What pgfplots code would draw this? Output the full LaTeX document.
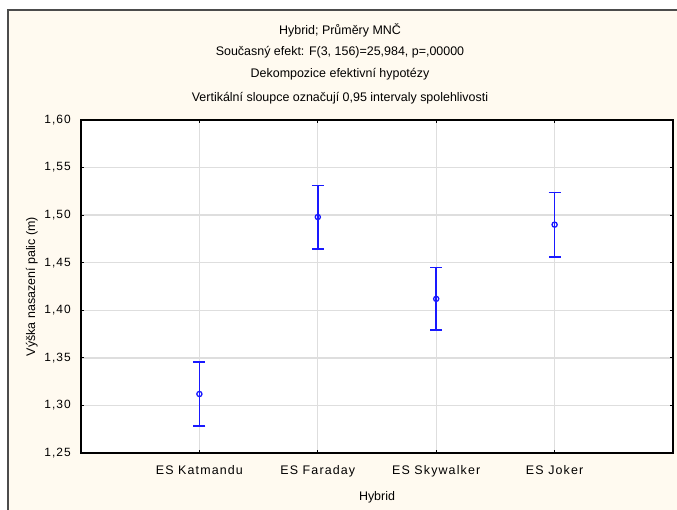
\documentclass[border=0pt]{standalone}
\usepackage{pgfplots}
\pgfplotsset{compat=1.18}
\usepackage{fontspec}
\setmainfont{Liberation Sans}
\newfontfamily\spaced{Liberation Sans}[LetterSpace=9]
\definecolor{framebg}{RGB}{255,250,240}
\definecolor{gridgray}{RGB}{222,222,222}
\definecolor{barblue}{RGB}{25,25,255}
\pgfdeclarelayer{bg}
\pgfsetlayers{bg,main}

\begin{document}
\begin{tikzpicture}
\begin{axis}[
    name=ax,
    scale only axis, width=592bp, height=333bp,
    font=\fontsize{12.5}{14}\selectfont,
    xmin=-1, xmax=4, ymin=1.25, ymax=1.60,
    xtick={0,1,2,3},
    xticklabels={ES Katmandu, ES Faraday, ES Skywalker, ES Joker},
    ytick={1.25,1.3,1.35,1.4,1.45,1.5,1.55,1.6},
    /pgf/number format/fixed,
    /pgf/number format/fixed zerofill,
    /pgf/number format/precision=2,
    /pgf/number format/use comma,
    /pgf/number format/assume math mode=true,
    xticklabel style={font=\spaced\fontsize{12.5}{14}\selectfont, anchor=base, yshift=-21.3bp},
    yticklabel style={font=\spaced\fontsize{12}{14}\selectfont, anchor=east, inner sep=0pt, xshift=-10bp},
    grid=major,
    grid style={gridgray, line width=1.3bp},
    axis line style={black, line width=1.2bp},
    tick style={black, line width=0.8bp},
    major tick length=3bp,
    axis background/.style={fill=white},
    xlabel={Hybrid},
    ylabel={Výška nasazení palic (m)},
    xlabel style={at={(axis description cs:0.5,-0.132)}, anchor=center},
    ylabel style={at={(axis description cs:-0.083,0.5)}, anchor=center},
]
\addplot[barblue, only marks, mark=o, mark size=2.6bp,
    mark options={fill=white, line width=1.3bp},
    error bars/.cd, y dir=both, y explicit,
    error bar style={line width=1.6bp, barblue},
    error mark options={rotate=90, mark size=6bp, line width=1.6bp, barblue}]
coordinates {
    (0,1.312) +- (0,0.0334)
    (1,1.498) +- (0,0.0333)
    (2,1.412) +- (0,0.0329)
    (3,1.490) +- (0,0.0337)
};
\end{axis}

% reference layout in px: origin at axis corner, X = px - 81, Y = 453 - py
\begin{scope}[shift={(ax.south west)}, x=1bp, y=1bp]
\begin{pgfonlayer}{bg}
\fill[white] (-81,-57) rectangle (596,453);
\fill[framebg] (-73,-57) rectangle (596,443);
\draw[black!70, line width=1.2bp] (-73,-57) -- (-73,443) -- (596,443);
\end{pgfonlayer}
\begin{scope}[font=\fontsize{12.5}{14}\selectfont, anchor=base]
\node at (259,418) {Hybrid; Průměry MNČ};
\node at (259,397.5) {Současný efekt: F(3, 156)=25,984, p=,00000};
\node at (259,375.5) {Dekompozice efektivní hypotézy};
\node at (259,351.5) {Vertikální sloupce označují 0,95 intervaly spolehlivosti};
\end{scope}
\pgfresetboundingbox
\path[use as bounding box] (-81,-57) rectangle (596,453);
\end{scope}
\end{tikzpicture}
\end{document}
